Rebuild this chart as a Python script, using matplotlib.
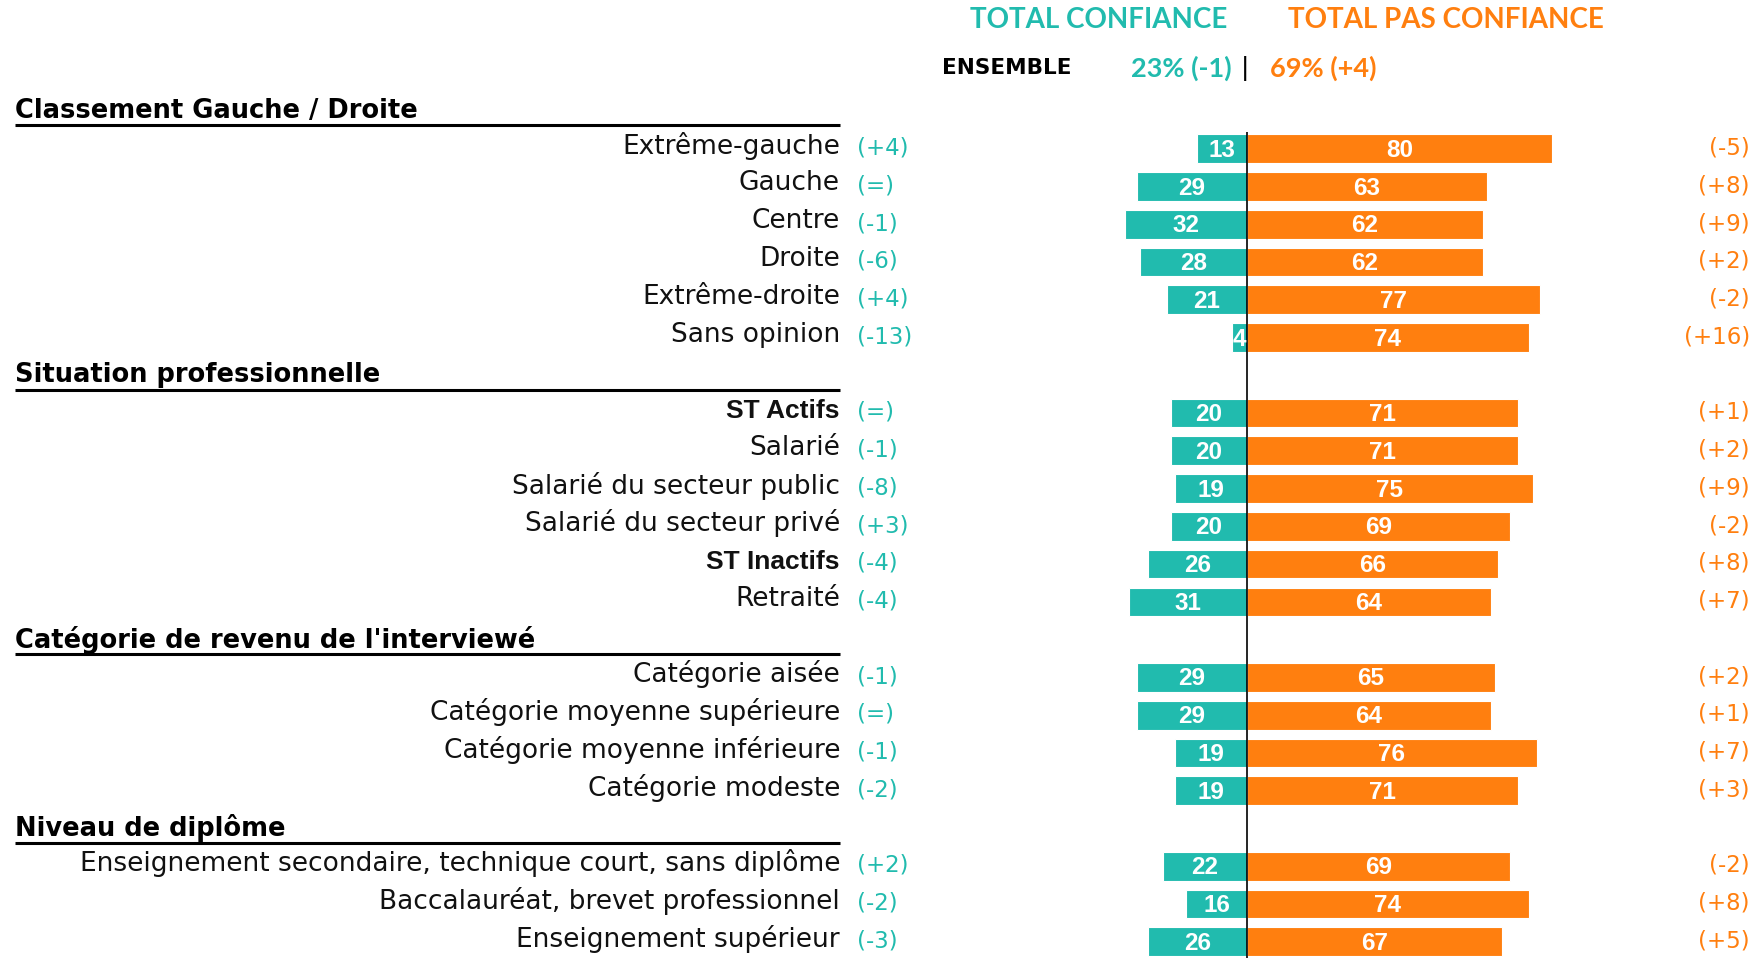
import matplotlib
matplotlib.use("Agg")
import matplotlib.pyplot as plt
from matplotlib import font_manager as fm

# ---------------- data ----------------
groups = ["Classement Gauche / Droite", "Situation professionnelle",
          "Catégorie de revenu de l'interviewé", "Niveau de diplôme"]
labels = [
    ["Extrême-gauche", "Gauche", "Centre", "Droite", "Extrême-droite", "Sans opinion"],
    ["ST Actifs", "Salarié", "Salarié du secteur public", "Salarié du secteur privé", "ST Inactifs", "Retraité"],
    ["Catégorie aisée", "Catégorie moyenne supérieure", "Catégorie moyenne inférieure", "Catégorie modeste"],
    ["Enseignement secondaire, technique court, sans diplôme", "Baccalauréat, brevet professionnel", "Enseignement supérieur"],
]
bold_labels = ["ST Actifs", "ST Inactifs"]
confiance = [13, 29, 32, 28, 21, 4, 20, 20, 19, 20, 26, 31, 29, 29, 19, 19, 22, 16, 26]
pas_confiance = [80, 63, 62, 62, 77, 74, 71, 71, 75, 69, 66, 64, 65, 64, 76, 71, 69, 74, 67]
evol_conf = ["(+4)", "(=)", "(-1)", "(-6)", "(+4)", "(-13)", "(=)", "(-1)", "(-8)", "(+3)", "(-4)", "(-4)",
             "(-1)", "(=)", "(-1)", "(-2)", "(+2)", "(-2)", "(-3)"]
evol_pas = ["(-5)", "(+8)", "(+9)", "(+2)", "(-2)", "(+16)", "(+1)", "(+2)", "(+9)", "(-2)", "(+8)", "(+7)",
            "(+2)", "(+1)", "(+7)", "(+3)", "(-2)", "(+8)", "(+5)"]
title_conf = "TOTAL CONFIANCE"
title_pas = "TOTAL PAS CONFIANCE"
ensemble_label = "ENSEMBLE"
ensemble_conf = "23% (-1)"
ensemble_pas = "69% (+4)"

TEAL = "#21BBAE"
ORANGE = "#FF7F0F"

avail = {f.name for f in fm.fontManager.ttflist}
num_font = "Liberation Sans" if "Liberation Sans" in avail else "DejaVu Sans"
lab_font = "DejaVu Sans"
title_font = "Lato" if "Lato" in avail else "DejaVu Sans"

W, H = 1752, 958
fig = plt.figure(figsize=(W / 100, H / 100), dpi=100)
ax = fig.add_axes([0, 0, 1, 1])
ax.axis("off")

CX = 1247.0      # pixel of zero
PXU = 3.81       # pixels per unit
ROW0 = 111.0
STEP = 37.76
ax.set_xlim(-CX / PXU, (W - CX) / PXU)
ax.set_ylim((H - ROW0) / STEP, -ROW0 / STEP)

def px(x):
    return (x - CX) / PXU

# build rows
rows = []
r = 0
for g, labs in zip(groups, labels):
    rows.append(("h", g, r))
    r += 1
    for l in labs:
        rows.append(("d", l, r))
        r += 1

ypos = [y for kind, _, y in rows if kind == "d"]
names = [l for kind, l, _ in rows if kind == "d"]

bh = 0.76
ax.barh(ypos, [-v for v in confiance], height=bh, color=TEAL, edgecolor="white", linewidth=0.8)
ax.barh(ypos, pas_confiance, height=bh, color=ORANGE, edgecolor="white", linewidth=0.8)
ax.vlines(0, 0.55, (H - ROW0) / STEP + 1, color="black", linewidth=1.2, zorder=5)

for y, n, c, p, ec, ep in zip(ypos, names, confiance, pas_confiance, evol_conf, evol_pas):
    ax.text(-c / 2, y + 0.04, str(c), ha="center", va="center", color="white",
            fontsize=17.5, fontweight="bold", family=num_font, zorder=6)
    ax.text(p / 2, y + 0.04, str(p), ha="center", va="center", color="white",
            fontsize=17.5, fontweight="bold", family=num_font, zorder=6)
    if n in bold_labels:
        ax.text(px(840), y - 0.06, n, ha="right", va="center", color="#111111",
                fontsize=19, fontweight="bold", family=num_font)
    else:
        ax.text(px(840), y - 0.08, n, ha="right", va="center", color="#111111",
                fontsize=19, fontweight="normal", family=lab_font)
    ax.text(px(857), y - 0.02, ec, ha="left", va="center", color=TEAL, fontsize=16.5,
            family=lab_font)
    ax.text(px(1750), y - 0.02, ep, ha="right", va="center", color=ORANGE, fontsize=16.5,
            family=lab_font)

for kind, g, y in rows:
    if kind == "h":
        ax.text(px(15), y + 0.0, g, ha="left", va="center", color="black",
                fontsize=18.5, fontweight="bold", family=lab_font)
        ax.plot([px(15), px(840)], [y + 0.38, y + 0.38], color="black", linewidth=2.2,
                solid_capstyle="butt")

# top titles
yt = (20 - ROW0) / STEP
ax.text(px(1099), yt, title_conf, ha="center", va="center", color=TEAL,
        fontsize=20, fontweight="bold", family=title_font)
ax.text(px(1446), yt, title_pas, ha="center", va="center", color=ORANGE,
        fontsize=20, fontweight="bold", family=title_font)
ye = (68 - ROW0) / STEP
ax.text(px(1007), ye, ensemble_label, ha="center", va="center", color="black",
        fontsize=15.5, fontweight="bold", family=lab_font)
ax.text(px(1181), ye, ensemble_conf, ha="center", va="center", color=TEAL,
        fontsize=19.5, fontweight="bold", family=title_font)
ax.text(px(1245), ye, "|", ha="center", va="center", color="black",
        fontsize=18, family=lab_font)
ax.text(px(1323), ye, ensemble_pas, ha="center", va="center", color=ORANGE,
        fontsize=19.5, fontweight="bold", family=title_font)

fig.savefig("out.png", dpi=100)
